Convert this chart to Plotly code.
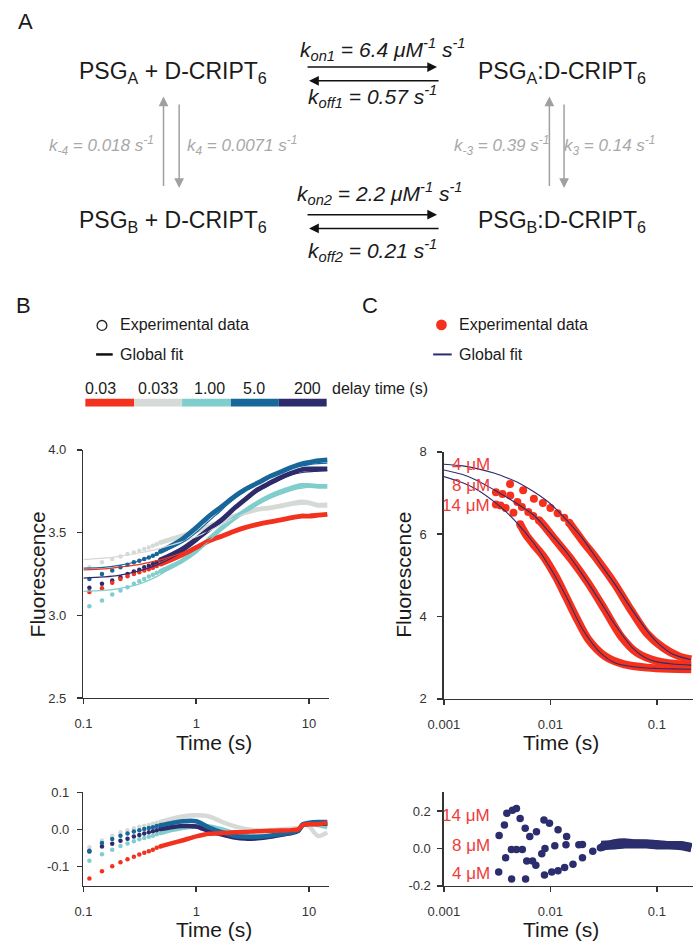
import plotly.graph_objects as go

W, H = 693, 952
FONT = "Liberation Sans, Arial, sans-serif"
NARROW = "Liberation Sans Narrow, Arial Narrow, Liberation Sans, Arial, sans-serif"

# ---------------- Panel B data ----------------
DELAY_LABELS = ["0.03", "0.033", "1.00", "5.0", "200"]
RED, GRAY, TEAL, BLUE, NAVY = "#f2311f", "#d6dad7", "#80cdcd", "#17679a", "#2d2b6b"

B_T_DOT = [0.113, 0.146, 0.18, 0.213, 0.246, 0.28, 0.313, 0.346, 0.38, 0.413, 0.446, 0.48]
B_RED_DOT = [3.14, 3.164, 3.196, 3.22, 3.236, 3.25, 3.26, 3.27, 3.278, 3.288, 3.298, 3.308]
B_GRAY_DOT = [3.29, 3.32, 3.34, 3.355, 3.37, 3.38, 3.39, 3.40, 3.41, 3.42, 3.43, 3.44]
B_TEAL_DOT = [3.055, 3.09, 3.125, 3.15, 3.17, 3.19, 3.205, 3.22, 3.235, 3.245, 3.255, 3.265]
B_BLUE_DOT = [3.22, 3.25, 3.27, 3.29, 3.305, 3.32, 3.33, 3.34, 3.35, 3.36, 3.37, 3.385]
B_NAVY_DOT = [3.167, 3.19, 3.21, 3.23, 3.25, 3.265, 3.275, 3.29, 3.30, 3.31, 3.32, 3.335]

B_T_LINE = [0.48, 0.6, 0.75, 1.0, 1.3, 1.7, 2.2, 2.7, 3.5, 4.5, 5.5, 7.0, 8.5, 10, 12, 14.5]
B_RED_LINE = [3.308, 3.335, 3.365, 3.41, 3.45, 3.48, 3.51, 3.53, 3.55, 3.565, 3.575, 3.59, 3.60, 3.60, 3.605, 3.61]
B_GRAY_LINE = [3.44, 3.46, 3.48, 3.51, 3.54, 3.57, 3.60, 3.62, 3.64, 3.65, 3.66, 3.675, 3.685, 3.68, 3.665, 3.665]
B_TEAL_LINE = [3.265, 3.295, 3.33, 3.39, 3.46, 3.53, 3.59, 3.63, 3.68, 3.72, 3.745, 3.77, 3.785, 3.785, 3.78, 3.78]
B_BLUE_LINE = [3.385, 3.42, 3.46, 3.53, 3.60, 3.66, 3.72, 3.76, 3.80, 3.84, 3.865, 3.895, 3.915, 3.925, 3.935, 3.94]
B_NAVY_LINE = [3.335, 3.365, 3.40, 3.46, 3.52, 3.58, 3.65, 3.70, 3.76, 3.80, 3.83, 3.86, 3.88, 3.885, 3.885, 3.885]

B_T_FIT = [0.1, 0.15, 0.2, 0.3, 0.45, 0.6, 0.8, 1.0, 1.3, 1.7, 2.2, 3.0, 4.0, 5.5, 7.0, 9.0, 11, 14.5]
B_RED_FIT = [3.274, 3.28, 3.29, 3.305, 3.33, 3.355, 3.385, 3.415, 3.45, 3.485, 3.512, 3.54, 3.56, 3.577, 3.588, 3.595, 3.60, 3.605]
B_GRAY_FIT = [3.337, 3.345, 3.355, 3.375, 3.40, 3.425, 3.45, 3.475, 3.51, 3.55, 3.59, 3.625, 3.645, 3.66, 3.668, 3.672, 3.675, 3.678]
B_TEAL_FIT = [3.145, 3.15, 3.16, 3.185, 3.235, 3.285, 3.335, 3.38, 3.45, 3.525, 3.59, 3.645, 3.69, 3.73, 3.755, 3.77, 3.775, 3.78]
B_BLUE_FIT = [3.285, 3.29, 3.30, 3.325, 3.37, 3.405, 3.45, 3.50, 3.57, 3.64, 3.71, 3.77, 3.82, 3.865, 3.89, 3.905, 3.915, 3.92]
B_NAVY_FIT = [3.225, 3.232, 3.24, 3.265, 3.305, 3.345, 3.395, 3.445, 3.515, 3.585, 3.655, 3.72, 3.77, 3.82, 3.85, 3.865, 3.87, 3.875]

# residuals (panel B, bottom)
R_RED_DOT = [-0.133, -0.113, -0.100, -0.089, -0.081, -0.074, -0.068, -0.063, -0.059, -0.055, -0.050, -0.046]
R_GRAY_DOT = [-0.048, -0.030, -0.017, -0.008, -0.002, 0.003, 0.007, 0.010, 0.012, 0.015, 0.018, 0.020]
R_TEAL_DOT = [-0.085, -0.067, -0.055, -0.045, -0.038, -0.032, -0.027, -0.023, -0.020, -0.017, -0.013, -0.010]
R_BLUE_DOT = [-0.058, -0.037, -0.026, -0.017, -0.011, -0.006, -0.002, 0.001, 0.004, 0.006, 0.009, 0.011]
R_NAVY_DOT = [-0.060, -0.046, -0.039, -0.031, -0.025, -0.019, -0.015, -0.011, -0.008, -0.005, -0.002, 0.001]

R_T_LINE = [0.48, 0.6, 0.75, 1.0, 1.3, 1.7, 2.2, 2.7, 3.5, 4.5, 5.5, 7.0, 8.0, 8.8, 10, 12, 14.5]
R_RED_LINE = [-0.046, -0.038, -0.030, -0.019, -0.012, -0.010, -0.008, -0.007, -0.005, -0.004, -0.003, -0.002, 0.000, 0.012, 0.014, 0.014, 0.018]
R_GRAY_LINE = [0.020, 0.028, 0.035, 0.038, 0.035, 0.020, 0.008, 0.001, -0.003, -0.002, 0.000, 0.002, 0.003, 0.012, 0.008, -0.018, -0.008]
R_TEAL_LINE = [-0.010, -0.002, 0.004, 0.008, 0.008, 0.000, -0.010, -0.016, -0.019, -0.017, -0.015, -0.008, -0.003, 0.012, 0.014, 0.012, 0.006]
R_BLUE_LINE = [0.011, 0.017, 0.022, 0.022, 0.005, -0.008, -0.018, -0.020, -0.020, -0.017, -0.013, -0.008, -0.003, 0.014, 0.018, 0.020, 0.020]
R_NAVY_LINE = [0.001, 0.006, 0.009, 0.008, -0.005, -0.014, -0.022, -0.025, -0.024, -0.020, -0.015, -0.010, -0.004, 0.012, 0.015, 0.015, 0.016]

# ---------------- Panel C data ----------------
C_RED, C_NAVY, C_LABEL = "#f5311d", "#2b2d6c", "#ee3c3c"
CONC_LABELS = ["4 μM", "8 μM", "14 μM"]

C4_T_DOT = [0.00418, 0.00555, 0.0070, 0.0085, 0.0100, 0.0117, 0.0135, 0.015]
C4_DOT = [7.22, 7.07, 6.86, 6.76, 6.64, 6.51, 6.40, 6.28]
C4_T_LINE = [0.015, 0.02, 0.028, 0.04, 0.057, 0.08, 0.115, 0.16, 0.21]
C4_LINE = [6.28, 5.84, 5.36, 4.80, 4.16, 3.60, 3.24, 3.04, 2.96]

C8_T_DOT = [0.00308, 0.00355, 0.0042, 0.0049, 0.0054, 0.0062, 0.0069, 0.0078]
C8_DOT = [7.02, 6.98, 6.94, 6.78, 6.66, 6.54, 6.44, 6.34]
C8_T_LINE = [0.0078, 0.0085, 0.0113, 0.016, 0.0228, 0.0325, 0.046, 0.065, 0.1, 0.15, 0.21]
C8_LINE = [6.34, 6.24, 5.84, 5.36, 4.80, 4.16, 3.52, 3.12, 2.92, 2.85, 2.82]

C14_T_DOT = [0.00308, 0.0034, 0.0038, 0.0045, 0.0052]
C14_DOT = [6.72, 6.70, 6.64, 6.52, 6.24]
C14_T_LINE = [0.0052, 0.006, 0.0069, 0.0085, 0.0113, 0.014, 0.0173, 0.0228, 0.0325, 0.0495, 0.081, 0.13, 0.21]
C14_LINE = [6.24, 5.96, 5.76, 5.48, 4.96, 4.48, 4.00, 3.44, 3.04, 2.84, 2.76, 2.73, 2.72]

C_T_FIT = [0.001, 0.0015, 0.002, 0.003, 0.004, 0.005, 0.007, 0.01, 0.014, 0.02, 0.03, 0.04, 0.06, 0.08, 0.1, 0.14, 0.21]
C4_FIT = [7.70, 7.66, 7.60, 7.48, 7.36, 7.25, 7.03, 6.74, 6.36, 5.90, 5.25, 4.80, 4.12, 3.67, 3.38, 3.09, 2.95]
C8_FIT = [7.56, 7.45, 7.32, 7.07, 6.88, 6.72, 6.46, 6.02, 5.58, 5.02, 4.33, 3.82, 3.22, 2.98, 2.90, 2.85, 2.82]
C14_FIT = [7.40, 7.25, 7.10, 6.78, 6.50, 6.24, 5.78, 5.18, 4.50, 3.70, 3.10, 2.88, 2.78, 2.75, 2.74, 2.73, 2.72]

# residuals (panel C, bottom)
RC14_T = [0.0033, 0.0037, 0.0039, 0.0044, 0.0048, 0.0052, 0.0058, 0.0064, 0.0074, 0.0087, 0.0098, 0.0118, 0.0142, 0.0185, 0.0295]
RC14 = [0.07, 0.126, 0.188, 0.205, 0.214, 0.161, 0.109, 0.065, 0.09, 0.153, 0.135, 0.10, 0.065, 0.02, 0.004]
RC8_T = [0.0038, 0.0043, 0.0048, 0.00545, 0.0060, 0.0068, 0.0073, 0.0083, 0.0089, 0.011, 0.014, 0.02]
RC8 = [-0.049, -0.005, -0.005, -0.005, -0.067, -0.067, -0.09, -0.028, 0.0, 0.015, 0.02, 0.022]
RC4_T = [0.00327, 0.00432, 0.00585, 0.0088, 0.0103, 0.0118, 0.0136, 0.0163, 0.02, 0.025, 0.031]
RC4 = [-0.125, -0.163, -0.163, -0.142, -0.125, -0.119, -0.102, -0.084, -0.049, -0.014, 0.012]
RC_T_TAIL = [0.03, 0.04, 0.05, 0.06, 0.08, 0.1, 0.13, 0.17, 0.21]
RC14_TAIL = [0.004, 0.03, 0.035, 0.03, 0.03, 0.025, 0.02, 0.02, 0.01]
RC8_TAIL = [0.022, 0.025, 0.028, 0.028, 0.025, 0.02, 0.018, 0.015, 0.005]
RC4_TAIL = [0.012, 0.015, 0.02, 0.02, 0.02, 0.015, 0.015, 0.01, 0.0]

fig = go.Figure()

def add(x, y, xa, ya, mode, color, size=4, width=1.0, shape="spline"):
    if mode == "markers":
        fig.add_trace(go.Scatter(x=x, y=y, xaxis=xa, yaxis=ya, mode="markers",
                                 marker=dict(size=size, color=color, line=dict(width=0)),
                                 showlegend=False, hoverinfo="skip"))
    else:
        fig.add_trace(go.Scatter(x=x, y=y, xaxis=xa, yaxis=ya, mode="lines",
                                 line=dict(color=color, width=width, shape=shape, smoothing=0.8),
                                 showlegend=False, hoverinfo="skip"))

# Panel B main
b_series = [
    (GRAY, B_GRAY_DOT, B_GRAY_LINE, B_GRAY_FIT, R_GRAY_DOT, R_GRAY_LINE),
    (TEAL, B_TEAL_DOT, B_TEAL_LINE, B_TEAL_FIT, R_TEAL_DOT, R_TEAL_LINE),
    (NAVY, B_NAVY_DOT, B_NAVY_LINE, B_NAVY_FIT, R_NAVY_DOT, R_NAVY_LINE),
    (BLUE, B_BLUE_DOT, B_BLUE_LINE, B_BLUE_FIT, R_BLUE_DOT, R_BLUE_LINE),
    (RED, B_RED_DOT, B_RED_LINE, B_RED_FIT, R_RED_DOT, R_RED_LINE),
]
for col, dots, line, fit, rd, rl in b_series:
    add(B_T_DOT, dots, "x", "y", "markers", col, size=4.5)
    add(B_T_LINE, line, "x", "y", "lines", col, width=4.8)
for col, dots, line, fit, rd, rl in b_series:
    add(B_T_FIT, fit, "x", "y", "lines", col, width=1.2)
for col, dots, line, fit, rd, rl in b_series:
    add(B_T_DOT, rd, "x2", "y2", "markers", col, size=4.5)
    add(R_T_LINE, rl, "x2", "y2", "lines", col, width=4.5)

# Panel C main
for tdot, dot, tline, line in [(C4_T_DOT, C4_DOT, C4_T_LINE, C4_LINE),
                               (C8_T_DOT, C8_DOT, C8_T_LINE, C8_LINE),
                               (C14_T_DOT, C14_DOT, C14_T_LINE, C14_LINE)]:
    add(tdot, dot, "x3", "y3", "markers", C_RED, size=8)
    add(tline, line, "x3", "y3", "lines", C_RED, width=8)
for fit in [C4_FIT, C8_FIT, C14_FIT]:
    add(C_T_FIT, fit, "x3", "y3", "lines", C_NAVY, width=1.1)

# Panel C residuals
for t, r in [(RC4_T, RC4), (RC8_T, RC8), (RC14_T, RC14)]:
    add(t, r, "x4", "y4", "markers", C_NAVY, size=7.5)
for tail in [RC4_TAIL, RC8_TAIL, RC14_TAIL]:
    add(RC_T_TAIL, tail, "x4", "y4", "lines", C_NAVY, width=7.5)


def px(x):
    return x / W


def py(y):
    return 1 - y / H


axis_common = dict(showline=True, linecolor="#333", linewidth=1.5, ticks="outside", ticklen=5,
                   tickwidth=1.5, tickcolor="#333", showgrid=False, zeroline=False,
                   tickfont=dict(family=FONT, size=13, color="#333"))

fig.update_layout(
    width=W, height=H, margin=dict(l=0, r=0, t=0, b=0),
    paper_bgcolor="white", plot_bgcolor="white", showlegend=False,
    font=dict(family=FONT),
    xaxis=dict(axis_common, type="log", domain=[px(69), px(320)], range=[-1, 1.173], anchor="y",
               tickvals=[0.1, 1, 10], ticktext=["0.1", "1", "10"], ticklabelstandoff=8),
    yaxis=dict(axis_common, domain=[py(702), py(450)], range=[2.5, 4.0], anchor="x",
               tickvals=[2.5, 3.0, 3.5, 4.0], ticktext=["2.5", "3.0", "3.5", "4.0"], ticklabelstandoff=8),
    xaxis2=dict(axis_common, type="log", domain=[px(69), px(320)], range=[-1, 1.173], anchor="y2",
                tickvals=[0.1, 1, 10], ticktext=["0.1", "1", "10"], ticklabelstandoff=8),
    yaxis2=dict(axis_common, domain=[py(893), py(798)], range=[-0.153, 0.1], anchor="x2",
                tickvals=[-0.1, 0.0, 0.1], ticktext=["-0.1", "0.0", "0.1"], ticklabelstandoff=5),
    xaxis3=dict(axis_common, type="log", domain=[px(438), 1.0], range=[-3, -0.661], anchor="y3",
                tickvals=[0.001, 0.01, 0.1], ticktext=["0.001", "0.01", "0.1"], ticklabelstandoff=8),
    yaxis3=dict(axis_common, domain=[py(703), py(452)], range=[2, 8], anchor="x3",
                tickvals=[2, 4, 6, 8], ticktext=["2", "4", "6", "8"], ticklabelstandoff=8),
    xaxis4=dict(axis_common, type="log", domain=[px(438), 1.0], range=[-3, -0.661], anchor="y4",
                tickvals=[0.001, 0.01, 0.1], ticktext=["0.001", "0.01", "0.1"], ticklabelstandoff=8),
    yaxis4=dict(axis_common, domain=[py(893), py(798)], range=[-0.2, 0.3], anchor="x4",
                tickvals=[-0.2, 0.0, 0.2], ticktext=["-0.2", "0.0", "0.2"], ticklabelstandoff=4),
)

ann = []
shapes = []


def txt(x, y, s, size, color="#1a1a1a", xanchor="center", yanchor="middle", family=FONT, angle=0):
    ann.append(dict(x=px(x), y=py(y), xref="paper", yref="paper", text=s, showarrow=False,
                    font=dict(size=size, color=color, family=family), xanchor=xanchor,
                    yanchor=yanchor, textangle=angle))


def arrow(x0, y0, x1, y1, color):
    ann.append(dict(x=px(x1), y=py(y1), xref="paper", yref="paper", ax=x0 - x1, ay=y0 - y1,
                    axref="pixel", ayref="pixel", showarrow=True, arrowhead=2, arrowsize=1.3,
                    arrowwidth=1.5, arrowcolor=color, text="", standoff=0, startstandoff=0))


# ---------- Panel A: reaction scheme ----------
txt(10, 15, "A", 22)
SCHEME = 23
txt(161, 67, "PSG<sub>A</sub> + D-CRIPT<sub>6</sub>", SCHEME, family=NARROW)
txt(559, 67, "PSG<sub>A</sub>:D-CRIPT<sub>6</sub>", SCHEME, family=NARROW)
txt(161, 218, "PSG<sub>B</sub> + D-CRIPT<sub>6</sub>", SCHEME, family=NARROW)
txt(559, 218, "PSG<sub>B</sub>:D-CRIPT<sub>6</sub>", SCHEME, family=NARROW)
KS = 21
txt(375, 43, "<i>k<sub>on1</sub> = 6.4 μM<sup>-1</sup> s<sup>-1</sup></i>", KS, family=NARROW)
txt(365, 91, "<i>k<sub>off1</sub> = 0.57 s<sup>-1</sup></i>", KS, family=NARROW)
txt(372, 189, "<i>k<sub>on2</sub> = 2.2 μM<sup>-1</sup> s<sup>-1</sup></i>", KS, family=NARROW)
txt(365, 247, "<i>k<sub>off2</sub> = 0.21 s<sup>-1</sup></i>", KS, family=NARROW)
GK, GS = "#a8a8a8", 17
txt(88, 141, "<i>k<sub>-4</sub> = 0.018 s<sup>-1</sup></i>", GS, GK, family=NARROW)
txt(231, 141, "<i>k<sub>4</sub> = 0.0071 s<sup>-1</sup></i>", GS, GK, family=NARROW)
txt(497, 141, "<i>k<sub>-3</sub> = 0.39 s<sup>-1</sup></i>", GS, GK, family=NARROW)
txt(608, 141, "<i>k<sub>3</sub> = 0.14 s<sup>-1</sup></i>", GS, GK, family=NARROW)
arrow(300, 61, 431, 61, "#111")
arrow(431, 75, 300, 75, "#111")
arrow(300, 211, 431, 211, "#111")
arrow(431, 225, 300, 225, "#111")
arrow(151, 182, 151, 91, "#a0a0a0")
arrow(167, 99, 167, 184, "#a0a0a0")
arrow(546, 182, 546, 91, "#a0a0a0")
arrow(561, 99, 561, 184, "#a0a0a0")

# ---------- Panel B legend ----------
txt(8, 303, "B", 22)
shapes.append(dict(type="circle", xref="paper", yref="paper", x0=px(83), x1=px(93), y0=py(328.5),
                   y1=py(318.5), line=dict(color="#222", width=1.3), fillcolor="white"))
txt(104, 323, "Experimental data", 16, xanchor="left")
shapes.append(dict(type="line", xref="paper", yref="paper", x0=px(82), x1=px(99), y0=py(353),
                   y1=py(353), line=dict(color="#111", width=2.5)))
txt(104, 353, "Global fit", 16, xanchor="left")
seg_edges = [71, 121, 170, 220, 269, 318]
for i, col in enumerate([RED, GRAY, TEAL, BLUE, NAVY]):
    shapes.append(dict(type="rect", xref="paper", yref="paper", x0=px(seg_edges[i]),
                       x1=px(seg_edges[i + 1]), y0=py(406), y1=py(398), line=dict(width=0),
                       fillcolor=col))
for xc, lab in zip([86, 145, 198, 244, 298], DELAY_LABELS):
    txt(xc, 388, lab, 16)
txt(321, 388, "delay time (s)", 16, xanchor="left")

# ---------- Panel C legend ----------
txt(362, 303, "C", 22)
shapes.append(dict(type="circle", xref="paper", yref="paper", x0=px(430), x1=px(441), y0=py(328.5),
                   y1=py(317.5), line=dict(width=0), fillcolor=C_RED))
txt(451, 323, "Experimental data", 16, xanchor="left")
shapes.append(dict(type="line", xref="paper", yref="paper", x0=px(427), x1=px(446), y0=py(353),
                   y1=py(353), line=dict(color=C_NAVY, width=2)))
txt(451, 353, "Global fit", 16, xanchor="left")

# ---------- axis titles ----------
txt(22, 576, "Fluorescence", 21, angle=-90)
txt(397, 577, "Fluorescence", 21, angle=-90)
for xc in (203, 558):
    txt(xc, 747, "Time (s)", 21)
    txt(xc, 937, "Time (s)", 21)

# concentration labels in panel C
for yv, lab in zip([465, 486, 506], CONC_LABELS):
    txt(487, yv, lab, 17, C_LABEL, xanchor="right")
for yv, lab in zip([821, 852, 880], ["14 μM", "8 μM", "4 μM"]):
    txt(487, yv, lab, 17, C_LABEL, xanchor="right")

fig.update_layout(annotations=ann, shapes=shapes)
fig.write_html(
    "out.html",
    config={"displayModeBar": False, "staticPlot": True},
    post_script="document.body.style.margin='0';"
                "document.documentElement.style.overflow='hidden';",
)
